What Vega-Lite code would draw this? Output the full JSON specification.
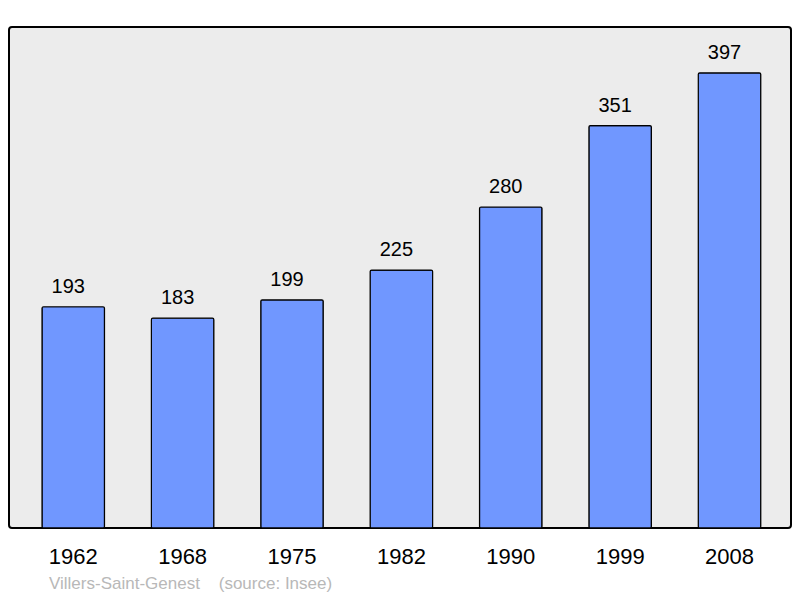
{
  "$schema": "https://vega.github.io/schema/vega-lite/v6.json",
  "autosize": "none",
  "width": 782,
  "height": 501,
  "padding": {"left": 9, "top": 27, "right": 9, "bottom": 70},
  "background": "white",
  "config": {
    "view": {"fill": "#ececec", "stroke": "#000000", "strokeWidth": 2, "cornerRadius": 3},
    "font": "Liberation Sans"
  },
  "title": {
    "text": "Villers-Saint-Genest\u00a0\u00a0\u00a0\u00a0(source: Insee)",
    "orient": "bottom",
    "anchor": "start",
    "frame": "group",
    "dx": 40,
    "offset": 9,
    "fontSize": 17,
    "fontWeight": "normal",
    "color": "#b8b8b8",
    "font": "Liberation Sans"
  },
  "data": {
    "values": [
      {"year": "1962", "population": 193},
      {"year": "1968", "population": 183},
      {"year": "1975", "population": 199},
      {"year": "1982", "population": 225},
      {"year": "1990", "population": 280},
      {"year": "1999", "population": 351},
      {"year": "2008", "population": 397}
    ]
  },
  "encoding": {
    "x": {
      "field": "year",
      "type": "ordinal",
      "scale": {"paddingInner": 0.4286, "paddingOuter": 0.289, "align": 0.522},
      "axis": {
        "title": null,
        "domain": false,
        "ticks": false,
        "labelAngle": 0,
        "labelFontSize": 22,
        "labelColor": "#000000",
        "labelBaseline": "alphabetic",
        "labelPadding": 35,
        "labelDx": -1.5
      }
    },
    "y": {
      "field": "population",
      "type": "quantitative",
      "scale": {"domain": [0, 437], "nice": false},
      "axis": null
    }
  },
  "layer": [
    {
      "mark": {"type": "bar", "color": "#7097ff", "stroke": "#000000", "strokeWidth": 1.2, "cornerRadius": 1.5}
    },
    {
      "mark": {"type": "text", "baseline": "alphabetic", "dy": -14, "dx": -5, "fontSize": 20, "color": "#000000"},
      "encoding": {"text": {"field": "population", "type": "quantitative"}}
    }
  ]
}
